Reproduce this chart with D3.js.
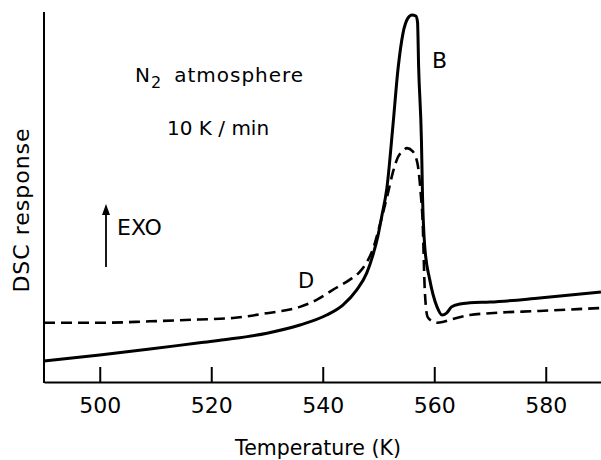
<!DOCTYPE html>
<html>
<head>
<meta charset="utf-8">
<script src="https://cdn.jsdelivr.net/npm/d3@7"></script>
<style>
  html, body { margin: 0; padding: 0; background: #fff; }
  svg { display: block; }
  text { font-family: "DejaVu Sans", sans-serif; fill: #000; }
</style>
</head>
<body>
<svg id="chart" width="601" height="460"></svg>
<script>
// Temperature (K) of each sample, DSC response in arbitrary units (0 = baseline of frame)
const tempB = [490.0, 500.0, 509.0, 517.9, 523.3, 530.0, 535.9, 540.7, 543.6, 546.1, 547.9, 549.0,
  549.9, 550.6, 551.5, 552.6, 553.5, 554.4, 555.3, 556.0, 556.7, 557.0, 557.2, 557.7, 557.9, 558.3,
  559.2, 560.5, 561.4, 562.2, 563.1, 564.6, 566.4, 570.0, 578.9, 589.9];
const dscB = [5.7, 7.3, 8.9, 10.6, 11.6, 13.2, 15.4, 18.1, 20.8, 24.9, 29.5, 34.3,
  39.5, 44.9, 52.4, 69.5, 84.6, 94.3, 98.4, 99.2, 98.9, 97.3, 85.1, 65.4, 50.0, 36.5,
  27.6, 20.3, 18.1, 18.6, 20.3, 21.1, 21.4, 21.6, 22.7, 24.3];

const tempD = [490.0, 500.0, 509.0, 517.9, 523.9, 530.0, 535.9, 538.9, 541.8, 544.8, 546.6, 547.9,
  549.0, 549.9, 550.8, 551.7, 552.6, 553.5, 554.4, 555.1, 556.1, 557.0, 557.6, 557.9, 558.3, 558.8,
  559.6, 560.5, 561.5, 562.8, 566.4, 570.0, 578.9, 589.9];
const dscD = [16.0, 16.0, 16.4, 16.9, 17.3, 18.6, 20.3, 22.2, 24.9, 27.6, 29.7, 32.4,
  35.9, 40.5, 45.7, 51.1, 56.8, 60.8, 62.4, 63.2, 62.4, 59.0, 50.5, 44.0, 24.9, 17.6,
  16.5, 16.0, 16.2, 16.8, 18.1, 18.6, 19.2, 20.0];

const xTicks = [500, 520, 540, 560, 580];
const xDomain = [490, 590];
const yDomain = [0, 100];

const svg = d3.select("#chart");
const plotLeft = 44, plotRight = 601.5, plotTop = 12, plotBottom = 382;

const x = d3.scaleLinear().domain(xDomain).range([plotLeft, plotRight]);
const y = d3.scaleLinear().domain(yDomain).range([plotBottom, plotTop]);

// x axis with inward ticks
const xAxis = d3.axisBottom(x).tickValues(xTicks).tickSizeInner(-15).tickSizeOuter(0).tickPadding(15);
const gx = svg.append("g").attr("transform", `translate(0,${plotBottom})`).call(xAxis);
gx.select(".domain").attr("stroke", "#000").attr("stroke-width", 2);
gx.selectAll(".tick line").attr("stroke", "#000").attr("stroke-width", 2);
gx.selectAll(".tick text").attr("font-size", 22).attr("font-family", "DejaVu Sans").attr("fill", "#000");

// y axis: plain line, no ticks
svg.append("line")
  .attr("x1", plotLeft).attr("x2", plotLeft).attr("y1", plotTop).attr("y2", plotBottom + 1)
  .attr("stroke", "#000").attr("stroke-width", 2);

const line = d3.line().x(d => x(d[0])).y(d => y(d[1])).curve(d3.curveMonotoneX);

svg.append("path")
  .datum(d3.zip(tempD, dscD))
  .attr("d", line)
  .attr("fill", "none").attr("stroke", "#000").attr("stroke-width", 2.6)
  .attr("stroke-dasharray", "11,6");

svg.append("path")
  .datum(d3.zip(tempB, dscB))
  .attr("d", line)
  .attr("fill", "none").attr("stroke", "#000").attr("stroke-width", 3)
  .attr("stroke-linejoin", "round");

// axis titles
svg.append("text")
  .attr("x", 318).attr("y", 455).attr("text-anchor", "middle")
  .attr("font-size", 20.5).text("Temperature (K)");

svg.append("text")
  .attr("transform", "translate(29,210) rotate(-90)")
  .attr("text-anchor", "middle").attr("font-size", 22).attr("letter-spacing", 1)
  .text("DSC response");

// annotations
const n2 = svg.append("text").attr("x", 135).attr("y", 82).attr("font-size", 20).attr("letter-spacing", 1);
n2.append("tspan").text("N");
n2.append("tspan").attr("dy", 6).attr("font-size", 16).text("2");
n2.append("tspan").attr("dy", -6).attr("dx", 12).text("atmosphere");

svg.append("text").attr("x", 167).attr("y", 135).attr("font-size", 20).text("10 K / min");

svg.append("text").attr("x", 432).attr("y", 68).attr("font-size", 22).text("B");
svg.append("text").attr("x", 298).attr("y", 288).attr("font-size", 21)
  .attr("font-family", "DejaVu Serif").text("D");

svg.append("text").attr("x", 117).attr("y", 235).attr("font-size", 22).text("EXO");

// exotherm direction arrow
svg.append("line").attr("x1", 106).attr("x2", 106).attr("y1", 267).attr("y2", 212)
  .attr("stroke", "#000").attr("stroke-width", 1.8);
svg.append("path")
  .attr("d", d3.line()([[102, 215], [106, 204], [110, 215]]) + "Z")
  .attr("fill", "#000");
</script>
</body>
</html>
